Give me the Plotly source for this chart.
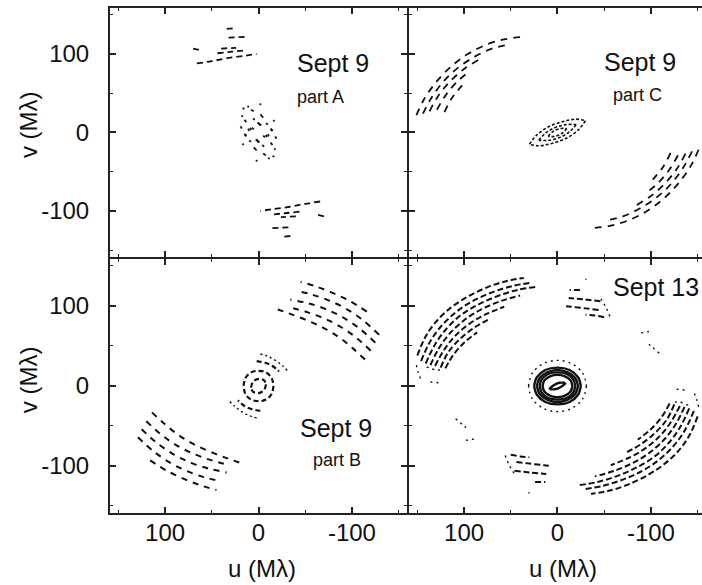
import plotly.graph_objects as go

# u-v coverage tracks, in M-lambda. Each track is listed once; its
# Hermitian conjugate (-u, -v) is drawn alongside it.

# Sept 9, part A
A_TRACKS = [
    [(66, 88), (50, 91), (32, 95), (14, 98), (2, 100)],
    [(44, 101), (28, 103), (12, 105)],
    [(40, 107), (24, 108)],
    [(32, 121), (12, 122)],
    [(34, 132), (26, 133)],
    [(70, 107), (63, 105)],
]
A_SHORT = [
    [(17, 31), (15, 30)], [(12, 33), (10, 33)], [(-1, 36), (-3, 36)],
    [(8, 29), (5, 27)], [(-2, 23), (-5, 19)], [(15, 16), (13, 13)],
    [(9, 6), (8, 3)], [(1, 13), (-2, 9)], [(-13, 4), (-15, 2)],
    [(15, -2), (13, -5)], [(3, -9), (0, -12)], [(-10, -2), (-11, -5)],
    [(18, 22), (17, 20)], [(6, 18), (4, 16)], [(-8, 12), (-10, 10)],
    [(19, 8), (18, 5)], [(-5, -4), (-7, -6)], [(-16, 16), (-17, 14)],
]

# Sept 9, part C
C_TRACKS = [
    [(151, 22), (143, 42), (130, 64), (114, 84), (96, 100), (76, 112), (56, 119), (36, 122)],
    [(144, 24), (135, 44), (122, 65), (106, 83), (88, 97), (70, 107), (52, 112)],
    [(137, 27), (128, 46), (115, 65), (100, 81), (84, 93)],
    [(129, 29), (120, 47), (108, 64), (94, 78)],
    [(121, 26), (113, 44), (102, 60)],
]
C_INNER = [
    [(30, -15), (22, -3), (10, 7), (-6, 14), (-20, 17), (-30, 15)],
    [(20, -10), (13, -1), (3, 6), (-9, 10), (-20, 10)],
    [(10, -5), (5, 1), (-3, 5), (-10, 5)],
]

# Sept 9, part B
B_TRACKS = [
    [(114, -33), (101, -47), (86, -61), (69, -73), (50, -83), (32, -91), (17, -97)],
    [(120, -44), (105, -60), (88, -74), (69, -85), (50, -93), (31, -99)],
    [(125, -54), (109, -71), (90, -86), (70, -97), (51, -104), (34, -108)],
    [(129, -64), (112, -82), (93, -97), (73, -108), (55, -115), (40, -119)],
    [(116, -93), (98, -106), (78, -117), (60, -125), (45, -130)],
]
B_INNER = [
    [(16, 0), (14, 10), (8, 17), (0, 19), (-8, 17), (-14, 10), (-16, 0)],
    [(8, -2), (6, 5), (0, 9), (-6, 7), (-8, 2)],
    [(2, 31), (-7, 29), (-15, 25), (-22, 18)],
]
B_DOTTED = [
    [(-2, 40), (-10, 37), (-18, 32), (-26, 25), (-31, 19)],
]

# Sept 13
D_TRACKS = [
    [(150, 38), (142, 60), (131, 79), (115, 97), (97, 111), (76, 123), (55, 131), (36, 135)],
    [(146, 31), (137, 54), (125, 74), (109, 92), (91, 106), (70, 117), (48, 125), (28, 129)],
    [(141, 28), (132, 50), (120, 70), (104, 88), (86, 101), (65, 112), (43, 120), (22, 124)],
    [(136, 26), (127, 47), (115, 66), (99, 83), (81, 96), (61, 106), (40, 113)],
    [(131, 25), (122, 44), (110, 62), (94, 78), (76, 90), (57, 99)],
    [(125, 23), (117, 42), (105, 58), (89, 73), (72, 84)],
    [(120, 22), (112, 38), (100, 54), (86, 67)],
    [(50, -86), (40, -88), (30, -89)],
    [(44, -95), (30, -97), (15, -99), (7, -100)],
    [(46, -106), (30, -108), (12, -110)],
    [(24, -120), (13, -120)],
]
D_DOTTED = [
    [(151, 26), (149, 17), (146, 8)],
    [(140, 24), (130, 20), (122, 21)],
    [(136, 5), (127, 4)],
    [(109, -41), (100, -50), (95, -55)],
    [(98, -68), (88, -66)],
    [(56, -87), (52, -98), (45, -112)],
    [(31, -133), (30, -134)],
    [(31, 0), (27, 16), (15, 28), (0, 32), (-15, 28), (-27, 16), (-31, 0)],
]
D_RINGS = [
    [(25, 0), (22, 11), (13, 20), (0, 23), (-13, 20), (-22, 11), (-25, 0)],
    [(22, 0), (19, 10), (11, 17), (0, 20), (-11, 17), (-19, 10), (-22, 0)],
    [(19, 0), (17, 8), (10, 15), (0, 17), (-10, 15), (-17, 8), (-19, 0)],
    [(16, 0), (14, 7), (8, 12), (0, 14), (-8, 12), (-14, 7), (-16, 0)],
    [(9, -4), (4, 1), (-2, 4), (-8, 4)],
]

PANEL_LABELS = ["Sept 9", "Sept 9", "Sept 9", "Sept 13"]
PART_LABELS = ["part A", "part C", "part B", ""]
TICK_VALS = [-100, 0, 100]
TICK_TEXT = ["-100", "0", "100"]
MINOR_VALS = [-150, -50, 50, 150]

FONT = "Arial, Liberation Sans, Helvetica, sans-serif"
INK = "#111111"
FRAME = "#222222"


def with_conjugates(tracks):
    xs, ys = [], []
    for tr in tracks:
        for s in (1, -1):
            for u, v in tr:
                xs.append(s * u)
                ys.append(s * v)
            xs.append(None)
            ys.append(None)
    return xs, ys


fig = go.Figure()


def add(tracks, axis, width, dash, shape="spline"):
    xs, ys = with_conjugates(tracks)
    fig.add_trace(go.Scatter(
        x=xs, y=ys, mode="lines", xaxis="x" + axis, yaxis="y" + axis,
        line=dict(color=INK, width=width, dash=dash, shape=shape),
        hoverinfo="skip", showlegend=False,
    ))


# panel A (top left)
add(A_TRACKS, "", 1.8, "6px,4px")
add(A_SHORT, "", 1.8, "solid", "linear")
# panel C (top right)
add(C_TRACKS, "2", 1.8, "7px,6px")
add(C_INNER, "2", 1.6, "3px,2px")
# panel B (bottom left)
add(B_TRACKS, "3", 2.0, "6px,6px")
add(B_INNER, "3", 2.2, "5px,3px")
add(B_DOTTED, "3", 1.4, "2px,3px")
# panel D (bottom right)
add(D_TRACKS, "4", 2.0, "6px,3px")
add(D_DOTTED, "4", 1.4, "2px,4px")
add(D_RINGS, "4", 2.4, "solid")

XL = [0.0, 0.5042]
XR = [0.5042, 1.0]
YT = [0.505, 1.0]
YB = [0.0, 0.505]


def axis(domain, rng, anchor, labels, mirror):
    return dict(
        domain=domain, range=rng, anchor=anchor,
        showline=True, linewidth=1, linecolor=FRAME, mirror=mirror,
        ticks="inside", ticklen=7, tickwidth=1.5, tickcolor=FRAME,
        tickvals=TICK_VALS, ticktext=TICK_TEXT, showticklabels=labels,
        minor=dict(tickvals=MINOR_VALS, ticks="inside", ticklen=4,
                   tickwidth=1, tickcolor=FRAME),
        showgrid=False, zeroline=False, fixedrange=True,
        tickfont=dict(family=FONT, size=24, color=INK),
    )


layout = dict(
    width=702, height=585,
    margin=dict(l=109, r=0, t=7, b=71),
    paper_bgcolor="white", plot_bgcolor="white",
    font=dict(family=FONT, color=INK),
    xaxis=axis(XL, [160, -160], "y", False, "ticks"),
    yaxis=axis(YT, [-160, 160], "x", True, "ticks"),
    xaxis2=axis(XR, [160, -154.7], "y2", False, "ticks"),
    yaxis2=axis(YT, [-160, 160], "x2", False, False),
    xaxis3=axis(XL, [160, -160], "y3", True, "ticks"),
    yaxis3=axis(YB, [-160, 160], "x3", True, "ticks"),
    xaxis4=axis(XR, [160, -154.7], "y4", True, "ticks"),
    yaxis4=axis(YB, [-160, 160], "x4", False, False),
)
for k in ("yaxis", "yaxis3"):
    layout[k]["ticklabelstandoff"] = 14
for k in ("xaxis3", "xaxis4"):
    layout[k]["ticklabelstandoff"] = -3
fig.update_layout(**layout)

# outer frame drawn a little heavier than the shared inner edges
edge = dict(type="line", xref="paper", yref="paper",
            line=dict(color=FRAME, width=2), layer="above")
fig.update_layout(shapes=[
    dict(edge, x0=0, x1=0, y0=0, y1=1),
    dict(edge, x0=0, x1=1, y0=1, y1=1),
    dict(edge, x0=0, x1=1, y0=0, y1=0),
])

ann = []
pos_main = [(0.378, 0.889), (0.895, 0.891), (0.383, 0.170), (0.922, 0.448)]
pos_part = [(0.356, 0.823), (0.892, 0.826), (0.385, 0.107), None]
for (x, y), t in zip(pos_main, PANEL_LABELS):
    ann.append(dict(x=x, y=y, xref="paper", yref="paper", text=t, showarrow=False,
                    font=dict(family=FONT, size=25, color=INK),
                    xanchor="center", yanchor="middle"))
for p, t in zip(pos_part, PART_LABELS):
    if p is None:
        continue
    ann.append(dict(x=p[0], y=p[1], xref="paper", yref="paper", text=t, showarrow=False,
                    font=dict(family=FONT, size=18, color=INK),
                    xanchor="center", yanchor="middle"))
for y in (0.769, 0.266):
    ann.append(dict(x=-0.1366, y=y, xref="paper", yref="paper", text="v (M\u03bb)",
                    textangle=-90, showarrow=False,
                    font=dict(family=FONT, size=24, color=INK),
                    xanchor="center", yanchor="middle"))
for x in (0.258, 0.7656):
    ann.append(dict(x=x, y=-0.108, xref="paper", yref="paper", text="u (M\u03bb)",
                    showarrow=False, font=dict(family=FONT, size=24, color=INK),
                    xanchor="center", yanchor="middle"))
fig.update_layout(annotations=ann)

fig.write_html("out.html")
